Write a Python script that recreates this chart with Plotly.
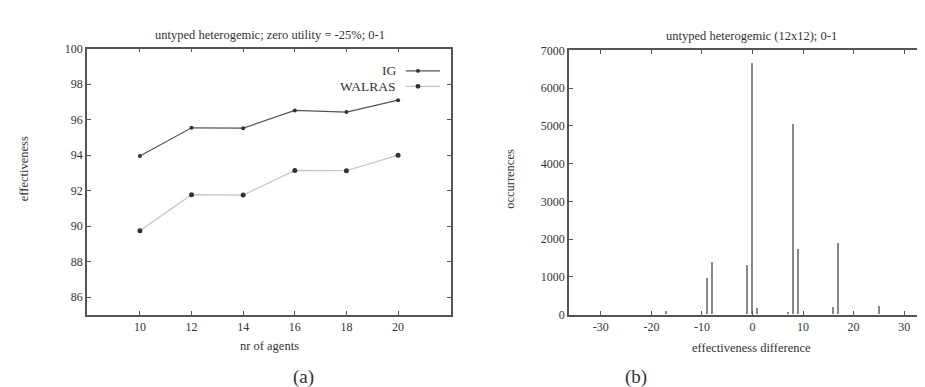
import plotly.graph_objects as go

# ---- data: panel (a)
agents = [10, 12, 14, 16, 18, 20]
ig = [93.95, 95.54, 95.52, 96.52, 96.43, 97.1]
walras = [89.73, 91.77, 91.75, 93.14, 93.12, 94.0]

# ---- data: panel (b)
diff = [-17, -9, -8, -1, 0, 1, 7, 8, 9, 16, 17, 25]
occ = [100, 960, 1380, 1310, 6660, 170, 60, 5040, 1720, 190, 1890, 210]
diff_ticks = [-30, -20, -10, 0, 10, 20, 30]
diff_ticktext = ["-30", "-20", "-10", "0", "10", "20", "30"]

FONT = "Liberation Serif"
TXT = "#333333"
AX = "#555555"

fig = go.Figure()

fig.add_trace(go.Scatter(x=agents, y=ig, mode="lines+markers", name="IG",
                         line=dict(color="#555555", width=1.2),
                         marker=dict(color="#333333", size=4),
                         xaxis="x", yaxis="y", showlegend=False))
fig.add_trace(go.Scatter(x=agents, y=walras, mode="lines+markers", name="WALRAS",
                         line=dict(color="#c4c4c4", width=1.2),
                         marker=dict(color="#333333", size=5),
                         xaxis="x", yaxis="y", showlegend=False))
fig.add_trace(go.Bar(x=diff, y=occ, width=0.3, marker=dict(color="#888888", line=dict(width=0)),
                     xaxis="x2", yaxis="y2", showlegend=False))

axis_common = dict(showline=True, linecolor=AX, linewidth=1.5, mirror="allticks",
                   ticks="inside", ticklen=4, tickcolor=AX, showgrid=False, zeroline=False,
                   tickfont=dict(family=FONT, size=12, color=TXT))

fig.update_layout(
    width=925, height=387, margin=dict(l=0, r=0, t=0, b=0),
    paper_bgcolor="white", plot_bgcolor="white",
    font=dict(family=FONT, color=TXT),
    bargap=0,
    xaxis=dict(domain=[0.0854, 0.4789], range=[7.95, 22.05], tickvals=agents,
               anchor="y", **axis_common),
    yaxis=dict(domain=[0.1964, 0.9096], range=[85, 100], dtick=2,
               anchor="x", **axis_common),
    xaxis2=dict(domain=[0.6065, 0.9978], range=[-36.3, 35.3],
                tickvals=diff_ticks, ticktext=diff_ticktext,
                anchor="y2", **axis_common),
    yaxis2=dict(domain=[0.1964, 0.905], range=[0, 7000], dtick=1000,
                anchor="x2", **axis_common),
)

anns = [
    dict(text="untyped heterogemic; zero utility = -25%; 0-1", x=262, y=21, size=12.5),
    dict(text="untyped heterogemic (12x12); 0-1", x=743, y=22, size=12.5),
    dict(text="nr of agents", x=261, y=343, size=12.5),
    dict(text="effectiveness difference", x=743, y=345, size=12.5),
    dict(text="(a)", x=295, y=376, size=19),
    dict(text="(b)", x=628, y=376, size=19),
]
for a in anns:
    fig.add_annotation(text=a["text"], xref="paper", yref="paper",
                       x=a["x"] / 925, y=1 - a["y"] / 387, showarrow=False,
                       xanchor="center", yanchor="middle",
                       font=dict(family=FONT, size=a["size"], color=TXT))
fig.add_annotation(text="effectiveness", xref="paper", yref="paper", x=16 / 925, y=1 - 160 / 387,
                   showarrow=False, textangle=-90, xanchor="center", yanchor="middle",
                   font=dict(family=FONT, size=12.5, color=TXT))
fig.add_annotation(text="occurrences", xref="paper", yref="paper", x=502 / 925, y=1 - 170 / 387,
                   showarrow=False, textangle=-90, xanchor="center", yanchor="middle",
                   font=dict(family=FONT, size=12.5, color=TXT))

# legend (gnuplot-style: text then sample)
leg = [("IG", 58, "#555555", 4), ("WALRAS", 74, "#c4c4c4", 5)]
for name, yy, col, ms in leg:
    fig.add_annotation(text=name, xref="paper", yref="paper", x=390 / 925, y=1 - yy / 387,
                       showarrow=False, xanchor="right", yanchor="middle",
                       font=dict(family=FONT, size=13.5, color=TXT))
    fig.add_shape(type="line", xref="paper", yref="paper", x0=398 / 925, x1=432 / 925,
                  y0=1 - yy / 387, y1=1 - yy / 387, line=dict(color=col, width=1.2))
    r = ms / 2
    cx = 410
    fig.add_shape(type="circle", xref="paper", yref="paper",
                  x0=(cx - r) / 925, x1=(cx + r) / 925,
                  y0=1 - (yy + r) / 387, y1=1 - (yy - r) / 387,
                  fillcolor="#333333", line=dict(width=0))

fig.write_html("out.html")
